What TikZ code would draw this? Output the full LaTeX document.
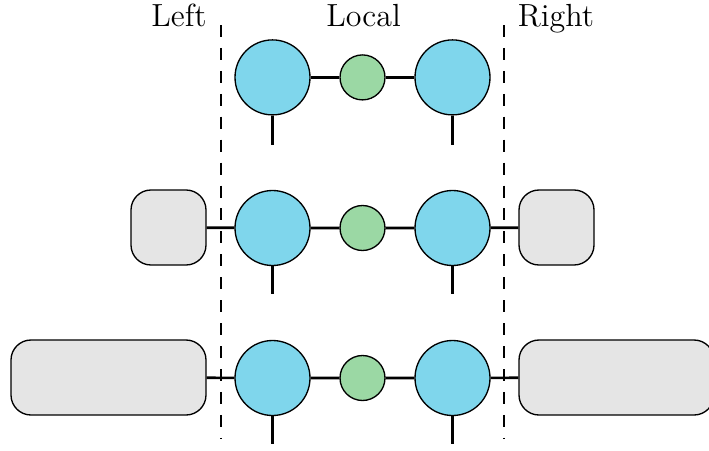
\documentclass[tikz,border=0pt]{standalone}
\begin{document}
\begin{tikzpicture}[x=0.375pt,y=-0.375pt,
  big/.style={circle,draw,line width=0.5pt,fill=bluefill,inner sep=0pt,minimum size=28.125pt},
  small/.style={circle,draw,line width=0.5pt,fill=greenfill,inner sep=0pt,minimum size=16.875pt},
  env/.style={rectangle,draw,line width=0.5pt,fill=greyfill,rounded corners=7.5pt,inner sep=0pt,minimum height=28.125pt},
  bond/.style={line width=1pt},
  sep/.style={dash pattern=on 4.5pt off 4.1pt,line width=0.5pt},
  lbl/.style={anchor=base,font=\large}]
\definecolor{bluefill}{RGB}{127,214,236}
\definecolor{greenfill}{RGB}{155,216,164}
\definecolor{greyfill}{RGB}{229,229,229}
\useasboundingbox (0,0) rectangle (709,450);
\clip (0,0) rectangle (709,450);
% labels
\node[lbl] (tl) at (179,26) {Left};
\node[lbl] (tc) at (363.5,26) {Local};
\node[lbl] (tr) at (556,26) {Right};
% row 1
\node[big] (a1) at (272.5,77.4) {};
\node[small] (g1) at (362.5,77.4) {};
\node[big] (b1) at (452.5,77.4) {};
\coordinate (pa1) at (272.5,145);
\coordinate (pb1) at (452.5,145);
\draw[bond] (a1) -- (g1) (g1) -- (b1);
\draw[bond] (a1.south) -- (pa1);
\draw[bond] (b1.south) -- (pb1);
% row 2
\node[env,minimum width=28.125pt] (l2) at (168.5,227.5) {};
\node[env,minimum width=28.125pt] (r2) at (556.5,227.5) {};
\node[big] (a2) at (272.5,228) {};
\node[small] (g2) at (362.5,228) {};
\node[big] (b2) at (452.5,228) {};
\coordinate (pa2) at (272.5,294);
\coordinate (pb2) at (452.5,294);
\draw[bond] (l2) -- (a2) (a2) -- (g2) (g2) -- (b2) (b2) -- (r2);
\draw[bond] (a2.south) -- (pa2);
\draw[bond] (b2.south) -- (pb2);
% row 3
\node[env,minimum width=73.125pt] (l3) at (108.5,377.5) {};
\node[env,minimum width=73.125pt] (r3) at (616.5,377.5) {};
\node[big] (a3) at (272.5,378) {};
\node[small] (g3) at (362.5,378) {};
\node[big] (b3) at (452.5,378) {};
\coordinate (pa3) at (272.5,444);
\coordinate (pb3) at (452.5,444);
\draw[bond] (l3) -- (a3) (a3) -- (g3) (g3) -- (b3) (b3) -- (r3);
\draw[bond] (a3.south) -- (pa3);
\draw[bond] (b3.south) -- (pb3);
% separators
\coordinate (s1t) at (221,25);
\coordinate (s1b) at (221,438);
\coordinate (s2t) at (504,25);
\coordinate (s2b) at (504,438);
\draw[sep] (s1t) -- (s1b);
\draw[sep] (s2t) -- (s2b);
\end{tikzpicture}
\end{document}
